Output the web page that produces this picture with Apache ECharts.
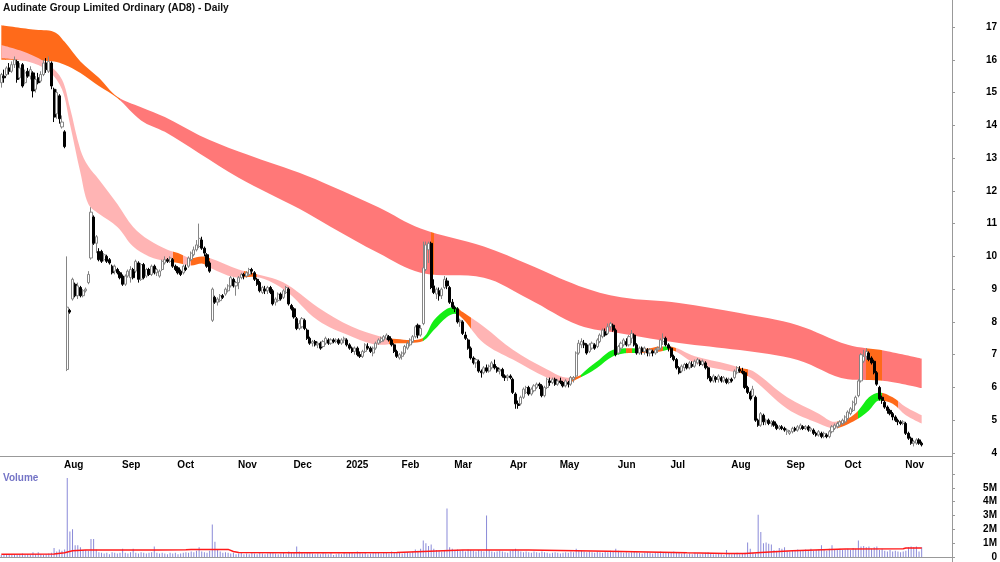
<!DOCTYPE html>
<html>
<head>
<meta charset="utf-8">
<title>Audinate Group Limited Ordinary (AD8) - Daily</title>
<script src="https://cdn.jsdelivr.net/npm/echarts@6/dist/echarts.min.js"></script>
<style>
  html, body { margin: 0; padding: 0; background: #fff; }
  #chart { width: 1000px; height: 562px; }
</style>
</head>
<body>
<div id="chart"></div>
<script>
// ASX trading calendar, Jul 2024 -> Nov 2025 (a few empty days at the right end)
const firstDay = '2024-07-01';
const dayCount = 361;
const holidays = ['2024-12-25', '2024-12-26', '2025-01-01', '2025-01-27',
    '2025-04-18', '2025-04-21', '2025-04-25', '2025-06-09'];
const monthNames = ['Jan', 'Feb', 'Mar', 'Apr', 'May', 'Jun', 'Jul', 'Aug', 'Sep', 'Oct', 'Nov', 'Dec'];

// daily candles: [open, close, low, high]
const candles = [
    // Jul 2024
    [15.3,15.55,15.15,15.6],[15.5,15.45,15.3,15.7],[15.55,15.75,15.5,15.8],[15.75,15.65,15.55,15.9],[15.65,15.85,15.6,15.95],
    [15.85,16.0,15.75,16.1],[15.95,15.4,15.3,16.0],[15.45,15.75,15.4,15.9],[15.85,15.2,15.15,15.9],[15.3,15.6,15.25,15.7],
    [15.65,15.5,15.45,15.75],[15.5,15.7,15.4,15.8],[15.6,15.05,14.85,15.65],[15.1,15.4,15.0,15.5],[15.45,15.3,15.25,15.6],
    [15.35,15.55,15.3,15.65],[15.55,15.9,15.5,16.0],[15.9,15.7,15.6,16.05],[15.65,15.95,15.6,16.1],[15.9,15.2,15.1,15.95],
    [15.1,14.25,14.1,15.15],[14.35,15.0,14.2,15.1],[14.9,14.2,14.05,14.95],
    // Aug
    [13.95,14.1,13.9,14.3],[13.8,13.35,13.3,13.85],[6.55,8.45,6.5,10.0],[8.35,8.3,8.25,8.4],[8.7,9.3,8.65,9.35],
    [9.15,8.8,8.75,9.2],[8.8,9.1,8.7,9.2],[9.05,8.8,8.75,9.1],[8.8,8.95,8.75,9.0],[8.95,9.0,8.9,9.05],
    [9.2,9.45,9.15,9.55],[9.95,11.35,9.9,11.5],[11.2,10.4,10.35,11.25],[10.4,10.6,10.1,10.65],[10.15,9.9,9.85,10.25],
    [10.15,9.85,9.8,10.2],[9.9,10.05,9.85,10.1],[10.0,9.85,9.8,10.05],[9.9,9.8,9.75,9.95],[9.7,9.5,9.45,9.75],
    [9.55,9.7,9.45,9.75],[9.6,9.5,9.45,9.65],
    // Sep
    [9.5,9.35,9.3,9.55],[9.4,9.15,9.1,9.45],[9.15,9.4,9.1,9.45],[9.4,9.55,9.35,9.6],[9.35,9.6,9.2,9.7],
    [9.6,9.35,9.3,9.65],[9.55,9.85,9.5,9.9],[9.8,9.3,9.2,9.85],[9.3,9.75,9.25,9.8],[9.75,9.35,9.3,9.8],
    [9.4,9.6,9.35,9.65],[9.6,9.45,9.4,9.65],[9.45,9.7,9.4,9.75],[9.7,9.5,9.45,9.75],[9.5,9.6,9.4,9.65],
    [9.4,9.55,9.35,9.6],[9.6,9.85,9.55,9.9],[9.8,9.9,9.75,10.0],[9.9,9.85,9.8,9.95],[9.85,9.95,9.8,10.0],
    [9.9,9.7,9.65,9.95],
    // Oct
    [9.7,9.6,9.55,9.75],[9.65,9.5,9.45,9.7],[9.55,9.45,9.4,9.6],[9.5,9.7,9.45,9.75],[9.65,9.6,9.55,9.75],
    [9.7,9.95,9.65,10.0],[9.9,10.1,9.85,10.15],[10.05,10.2,10.0,10.3],[10.2,10.35,10.15,10.5],[10.3,10.55,10.25,11.0],
    [10.5,10.25,10.2,10.6],[10.25,10.1,10.0,10.3],[10.05,9.7,9.65,10.1],[9.8,9.55,9.5,9.85],[8.05,9.0,8.0,9.05],
    [8.75,8.6,8.55,8.8],[8.6,8.7,8.5,8.75],[8.65,8.8,8.6,8.85],[8.8,8.75,8.7,8.85],[8.85,9.0,8.8,9.05],
    [8.95,9.1,8.9,9.15],[9.1,9.35,9.05,9.4],[9.3,9.1,9.05,9.35],
    // Nov
    [9.1,9.2,8.8,9.25],[9.2,9.35,9.0,9.4],[9.35,9.45,9.3,9.5],[9.45,9.4,9.3,9.5],[9.4,9.5,9.35,9.55],
    [9.45,9.6,9.4,9.65],[9.6,9.55,9.45,9.65],[9.5,9.3,9.25,9.55],[9.3,9.15,9.1,9.35],[9.2,8.95,8.9,9.25],
    [8.9,9.05,8.85,9.1],[9.0,8.95,8.85,9.1],[8.95,9.05,8.85,9.1],[9.05,8.9,8.85,9.1],[8.95,8.55,8.5,9.0],
    [8.6,8.7,8.5,8.75],[8.65,8.85,8.6,8.9],[8.85,8.7,8.65,8.9],[8.75,8.95,8.7,9.0],[8.9,9.05,8.85,9.1],
    [9.0,8.55,8.5,9.05],
    // Dec
    [8.5,8.4,8.35,8.55],[8.4,8.15,8.1,8.45],[8.1,7.8,7.75,8.15],[7.8,7.95,7.75,8.05],[7.85,8.1,7.8,8.15],
    [8.05,7.8,7.75,8.1],[7.75,7.5,7.45,7.8],[7.5,7.35,7.3,7.55],[7.35,7.4,7.25,7.45],[7.4,7.3,7.25,7.45],
    [7.3,7.35,7.2,7.4],[7.35,7.2,7.15,7.4],[7.25,7.4,7.2,7.45],[7.35,7.5,7.3,7.55],[7.45,7.35,7.3,7.5],
    [7.35,7.45,7.3,7.5],[7.45,7.4,7.35,7.5],[7.4,7.45,7.35,7.5],[7.45,7.35,7.3,7.5],[7.35,7.45,7.3,7.5],
    // Jan 2025
    [7.45,7.5,7.35,7.55],[7.45,7.3,7.25,7.5],[7.3,7.2,7.15,7.35],[7.2,7.1,7.05,7.25],[7.1,7.2,7.0,7.25],
    [7.2,7.0,6.95,7.25],[7.0,6.95,6.9,7.1],[6.95,7.1,6.9,7.15],[7.1,7.3,7.05,7.35],[7.25,7.2,7.15,7.35],
    [7.2,7.1,7.05,7.25],[7.05,7.2,6.95,7.25],[7.2,7.35,7.15,7.4],[7.35,7.45,7.3,7.5],[7.4,7.5,7.35,7.55],
    [7.45,7.55,7.4,7.6],[7.5,7.6,7.45,7.65],[7.55,7.45,7.4,7.6],[7.45,7.3,7.25,7.5],[7.3,7.1,7.05,7.35],
    [7.1,6.95,6.9,7.15],
    // Feb
    [6.9,7.0,6.85,7.05],[6.95,7.05,6.85,7.1],[7.05,7.25,7.0,7.3],[7.2,7.35,7.15,7.4],[7.3,7.45,7.25,7.5],
    [7.4,7.55,7.35,7.6],[7.55,7.85,7.5,7.9],[7.9,7.6,7.5,7.95],[7.6,7.8,7.55,7.9],[7.95,9.65,7.9,10.45],
    [9.6,10.35,9.55,10.45],[10.2,10.4,9.8,10.45],[10.4,9.05,9.0,10.45],[9.1,8.9,8.85,9.3],[8.85,9.0,8.7,9.05],
    [8.95,8.8,8.65,9.05],[8.8,9.0,8.7,9.05],[9.05,9.3,9.0,9.4],[9.25,9.1,9.0,9.35],[9.05,8.6,8.55,9.1],
    // Mar
    [8.6,8.45,8.4,8.7],[8.45,8.4,8.3,8.5],[8.4,8.0,7.95,8.45],[8.0,8.05,7.85,8.1],[8.0,7.65,7.6,8.05],
    [7.6,7.5,7.45,7.7],[7.45,7.2,7.15,7.5],[7.2,6.9,6.85,7.25],[6.9,6.75,6.7,6.95],[6.75,6.85,6.6,6.9],
    [6.8,6.5,6.45,6.85],[6.5,6.45,6.3,6.55],[6.45,6.6,6.4,6.65],[6.6,6.5,6.45,6.7],[6.5,6.65,6.45,6.7],
    [6.6,6.75,6.55,6.8],[6.7,6.6,6.55,6.85],[6.6,6.5,6.45,6.65],[6.5,6.55,6.4,6.6],[6.55,6.35,6.3,6.6],
    [6.35,6.3,6.2,6.4],
    // Apr
    [6.3,6.35,6.2,6.4],[6.35,6.3,6.25,6.4],[6.25,5.85,5.8,6.3],[5.8,5.5,5.35,5.85],[5.5,5.45,5.35,5.6],
    [5.5,5.7,5.45,5.75],[5.7,5.95,5.65,6.0],[5.85,6.0,5.8,6.05],[6.0,5.8,5.75,6.05],[5.8,5.95,5.75,6.0],
    [5.9,6.05,5.85,6.1],[6.0,6.1,5.95,6.15],[6.1,6.05,5.95,6.15],[6.05,5.75,5.7,6.1],[5.75,6.0,5.7,6.05],
    [6.0,6.25,5.95,6.3],[6.2,6.15,6.05,6.3],[6.15,6.25,6.1,6.3],[6.25,6.1,6.05,6.3],
    // May
    [6.1,6.2,6.05,6.25],[6.2,6.15,6.1,6.3],[6.15,6.05,6.0,6.2],[6.05,6.2,6.0,6.25],[6.15,6.1,6.0,6.2],
    [6.1,6.3,6.05,6.35],[6.25,6.3,6.15,6.35],[6.35,7.05,6.3,7.1],[7.05,7.35,7.0,7.45],[7.3,7.4,7.2,7.5],
    [7.35,7.3,7.2,7.45],[7.3,7.05,7.0,7.35],[7.1,7.3,7.05,7.35],[7.2,7.35,7.15,7.4],[7.3,7.2,7.15,7.35],
    [7.25,7.45,7.2,7.5],[7.4,7.6,7.35,7.65],[7.55,7.75,7.5,7.8],[7.7,7.6,7.55,7.8],[7.65,7.85,7.6,7.95],
    [7.85,7.95,7.75,8.0],[7.9,7.75,7.7,7.95],
    // Jun
    [7.75,7.0,6.95,7.8],[7.05,7.25,7.0,7.3],[7.2,7.35,7.1,7.4],[7.3,7.45,7.25,7.5],[7.4,7.3,7.25,7.5],
    [7.3,7.55,7.25,7.6],[7.5,7.65,7.35,7.75],[7.6,7.3,7.25,7.65],[7.3,7.05,7.0,7.35],[7.05,7.2,7.0,7.25],
    [7.2,7.1,7.0,7.25],[7.1,7.2,7.0,7.25],[7.15,7.05,6.95,7.2],[7.05,7.15,6.95,7.2],[7.1,7.05,6.95,7.15],
    [7.05,7.15,7.0,7.2],[7.15,7.2,7.05,7.25],[7.2,7.45,7.15,7.5],[7.4,7.5,7.3,7.65],[7.5,7.3,7.25,7.55],
    // Jul
    [7.3,7.2,7.1,7.35],[7.2,6.95,6.9,7.25],[6.95,6.85,6.8,7.0],[6.85,6.6,6.55,6.9],[6.6,6.45,6.4,6.65],
    [6.5,6.65,6.45,6.7],[6.6,6.7,6.5,6.75],[6.7,6.6,6.55,6.75],[6.6,6.75,6.55,6.8],[6.7,6.65,6.6,6.8],
    [6.65,6.8,6.6,6.85],[6.75,6.85,6.7,6.9],[6.8,6.7,6.65,6.85],[6.7,6.8,6.65,6.85],[6.75,6.6,6.55,6.8],
    [6.6,6.3,6.25,6.65],[6.3,6.2,6.15,6.35],[6.2,6.35,6.15,6.4],[6.3,6.25,6.15,6.35],[6.25,6.35,6.15,6.4],
    [6.3,6.2,6.15,6.35],[6.2,6.3,6.15,6.35],[6.25,6.15,6.1,6.3],
    // Aug
    [6.15,6.25,6.1,6.3],[6.25,6.2,6.15,6.3],[6.3,6.5,6.25,6.55],[6.45,6.6,6.4,6.65],[6.55,6.5,6.45,6.65],
    [6.5,6.45,6.4,6.6],[6.45,6.0,5.95,6.5],[6.0,5.85,5.8,6.05],[5.85,5.65,5.6,5.9],[5.75,5.95,5.7,6.05],
    [5.7,5.0,4.95,5.75],[5.0,4.85,4.8,5.05],[4.85,5.2,4.8,5.25],[5.15,4.95,4.85,5.2],[4.95,5.0,4.85,5.05],
    [5.0,4.9,4.85,5.05],[4.9,4.95,4.8,5.0],[4.95,4.85,4.8,5.0],[4.85,4.75,4.7,4.9],[4.75,4.8,4.7,4.85],
    [4.8,4.75,4.7,4.85],
    // Sep
    [4.75,4.7,4.65,4.8],[4.65,4.7,4.55,4.75],[4.6,4.65,4.55,4.7],[4.65,4.75,4.6,4.8],[4.75,4.7,4.65,4.8],
    [4.7,4.8,4.65,4.85],[4.75,4.85,4.7,4.9],[4.8,4.75,4.7,4.85],[4.75,4.8,4.7,4.85],[4.8,4.7,4.65,4.85],
    [4.7,4.75,4.65,4.8],[4.7,4.6,4.55,4.75],[4.6,4.55,4.5,4.65],[4.55,4.65,4.5,4.7],[4.6,4.5,4.45,4.65],
    [4.5,4.6,4.45,4.65],[4.55,4.5,4.45,4.6],[4.5,4.65,4.45,4.7],[4.65,4.8,4.6,4.85],[4.75,4.85,4.7,4.9],
    [4.8,4.9,4.75,4.95],[4.85,4.95,4.8,5.0],
    // Oct
    [4.9,5.0,4.85,5.05],[4.95,5.1,4.9,5.15],[5.05,5.25,5.0,5.3],[5.2,5.35,5.15,5.4],[5.3,5.55,5.25,5.6],
    [5.5,5.7,5.45,5.75],[5.75,6.2,5.7,6.25],[6.2,7.0,6.15,7.05],[6.8,6.95,6.75,7.15],[6.95,7.1,6.85,7.2],
    [7.05,6.85,6.8,7.1],[6.9,6.75,6.7,6.95],[6.8,6.45,6.4,6.85],[6.45,6.1,6.05,6.5],[6.0,5.65,5.6,6.05],
    [5.7,5.6,5.5,5.75],[5.55,5.4,5.35,5.6],[5.4,5.3,5.2,5.45],[5.3,5.2,5.15,5.35],[5.2,5.1,5.0,5.25],
    [5.1,5.0,4.95,5.15],[5.0,4.95,4.85,5.05],[4.95,4.9,4.85,5.0],
    // Nov
    [4.9,4.95,4.85,5.0],[4.9,4.6,4.55,4.95],[4.6,4.45,4.4,4.65],[4.45,4.3,4.25,4.5],[4.3,4.35,4.2,4.4],
    [4.3,4.4,4.25,4.45],[4.4,4.3,4.25,4.45],[4.3,4.25,4.2,4.35]
];

// daily volume, millions of shares
const volumes = [
    0.15,0.2,0.15,0.2,0.15,0.2,0.15,0.2,0.25,0.15,
    0.2,0.15,0.35,0.2,0.35,0.2,0.15,0.2,0.25,0.3,
    0.65,0.4,0.55,0.45,0.55,5.7,1.85,2.0,0.85,0.85,
    0.7,0.5,0.5,0.45,1.3,1.3,0.55,0.35,0.3,0.25,
    0.3,0.2,0.35,0.3,0.25,0.3,0.6,0.3,0.25,0.35,
    0.6,0.3,0.25,0.35,0.3,0.25,0.3,0.35,0.75,0.3,
    0.25,0.3,0.25,0.2,0.3,0.25,0.3,0.2,0.25,0.3,
    0.35,0.3,0.4,0.35,0.45,0.7,0.4,0.35,0.3,0.45,
    2.35,1.1,0.5,0.4,0.3,0.35,0.3,0.25,0.3,0.2,
    0.25,0.3,0.2,0.25,0.2,0.3,0.25,0.2,0.3,0.25,
    0.2,0.25,0.3,0.35,0.25,0.2,0.25,0.3,0.2,0.4,
    0.3,0.35,0.75,0.4,0.3,0.25,0.35,0.3,0.25,0.2,
    0.25,0.2,0.3,0.25,0.2,0.3,0.15,0.2,0.25,0.2,
    0.3,0.25,0.35,0.3,0.25,0.4,0.3,0.25,0.3,0.2,
    0.25,0.3,0.35,0.3,0.25,0.3,0.35,0.25,0.4,0.3,
    0.35,0.3,0.25,0.3,0.35,0.3,0.4,0.55,0.45,0.6,
    1.2,1.0,0.8,0.9,0.6,0.5,0.45,0.4,0.5,3.5,
    0.7,0.6,0.5,0.55,0.45,0.5,0.4,0.55,0.5,0.45,
    0.4,0.5,0.45,0.4,3.0,0.5,0.4,0.35,0.4,0.45,
    0.4,0.35,0.3,0.45,0.5,0.6,0.45,0.4,0.35,0.4,
    0.35,0.3,0.4,0.35,0.3,0.4,0.35,0.3,0.25,0.3,
    0.35,0.3,0.25,0.3,0.35,0.3,0.4,0.35,0.6,0.5,
    0.45,0.4,0.35,0.4,0.35,0.3,0.4,0.35,0.3,0.4,
    0.35,0.45,0.4,0.6,0.45,0.35,0.3,0.35,0.3,0.35,
    0.4,0.35,0.3,0.25,0.3,0.35,0.3,0.25,0.3,0.35,
    0.4,0.35,0.3,0.35,0.3,0.4,0.35,0.3,0.25,0.3,
    0.2,0.25,0.2,0.3,0.25,0.2,0.25,0.3,0.35,0.25,
    0.2,0.2,0.25,0.2,0.15,0.5,0.25,0.2,0.25,0.3,
    0.2,0.25,0.3,1.05,0.6,0.3,0.25,3.05,1.8,1.0,
    1.05,0.95,0.9,0.5,0.45,0.65,0.6,0.7,0.45,0.4,
    0.5,0.45,0.55,0.5,0.45,0.55,0.5,0.6,0.45,0.5,
    0.55,0.85,0.5,0.45,0.6,0.85,0.5,0.55,0.6,0.5,
    0.55,0.6,0.5,0.65,0.6,1.2,0.75,0.8,0.7,0.75,
    0.6,0.7,0.75,0.5,0.6,0.45,0.4,0.5,0.4,0.45,
    0.4,0.35,0.4,0.45,0.7,0.75,0.7,0.75,0.4,0.7
];

// volume moving average, read at [day, millions]
const volumeAvg = [[0,0.2],[20,0.22],[24,0.3],[27,0.45],[32,0.5],[60,0.5],[70,0.52],[72,0.55],[86,0.55],
    [88,0.4],[90,0.32],[110,0.3],[130,0.3],[150,0.32],[160,0.4],[175,0.5],[200,0.5],[230,0.42],
    [260,0.3],[275,0.25],[282,0.25],[288,0.33],[300,0.45],[320,0.58],[342,0.6],[343,0.65],[349,0.65]];

// long-term moving average ribbon (edges), read at day indexes
const longIdx   = [0, 12, 20, 24, 30, 37, 44, 53, 62, 75, 90, 113, 125, 143, 159, 183, 200, 219, 235, 257, 280, 302, 321, 335, 349];
const longUpper = [17.05, 16.92, 16.85, 16.55, 15.95, 15.45, 14.87, 14.55, 14.25, 13.7, 13.2, 12.55, 12.15, 11.5, 10.85, 10.3, 9.75, 9.1, 8.75, 8.58, 8.27, 7.9, 7.3, 7.12, 6.88];
const longLower = [16.0, 15.97, 15.95, 15.85, 15.6, 15.2, 14.83, 14.15, 13.8, 13.15, 12.4, 11.45, 10.9, 10.1, 9.5, 9.35, 8.7, 7.9, 7.65, 7.36, 7.14, 6.84, 6.25, 6.2, 5.98];

// short-term moving average ribbon (edges)
const shortIdx   = [0, 10, 18, 23, 26, 30, 33, 37, 44, 50, 56, 63, 67, 72, 76, 79, 90, 95, 107, 120, 133, 144, 150, 155, 160, 164, 169, 172, 175, 183,
    194, 207, 215, 219, 222, 226, 232, 238, 244, 250, 253, 263, 276, 280, 285, 298, 310, 316, 321, 325, 329, 333, 338, 343, 349];
const shortUpper = [16.45, 16.2, 15.85, 15.4, 14.55, 13.25, 12.75, 12.35, 11.6, 10.9, 10.5, 10.2, 10.1, 9.95, 10.0, 9.95, 9.6, 9.5, 9.2, 8.45, 7.85, 7.55, 7.48, 7.45, 7.52, 8.05, 8.4, 8.45, 8.3, 7.85,
    7.15, 6.55, 6.3, 6.35, 6.55, 6.8, 7.15, 7.2, 7.18, 7.25, 7.25, 6.95, 6.7, 6.6, 6.5, 5.7, 5.2, 4.95, 5.05, 5.3, 5.7, 5.85, 5.7, 5.4, 5.15];
const shortLower = [16.05, 15.95, 15.65, 15.1, 14.05, 12.55, 11.6, 11.3, 10.9, 10.3, 10.0, 9.85, 9.8, 9.72, 9.78, 9.65, 9.35, 9.38, 9.0, 8.05, 7.55, 7.3, 7.35, 7.36, 7.42, 7.75, 8.15, 8.25, 8.1, 7.35,
    6.85, 6.3, 6.15, 6.28, 6.4, 6.6, 6.95, 7.05, 7.06, 7.1, 7.15, 6.75, 6.5, 6.45, 6.25, 5.35, 4.9, 4.75, 4.88, 5.05, 5.3, 5.6, 5.5, 5.15, 4.9];

// ribbon state along the days: [from day, state]
const longState = [[0, 'mixed'], [44.5, 'down'], [162.6, 'mixed'], [164.4, 'down'], [327.8, 'mixed'], [333.6, 'down']];
const shortState = [[0, 'down'], [64.5, 'mixed'], [68.5, 'down'], [71.5, 'mixed'], [79, 'down'], [91.5, 'mixed'], [97, 'down'],
    [146.5, 'mixed'], [160, 'up'], [172.5, 'mixed'], [177.5, 'down'], [215.5, 'mixed'], [220, 'up'], [237.3, 'mixed'],
    [238.5, 'up'], [241, 'mixed'], [251.3, 'up'], [253.3, 'mixed'], [256, 'down'], [278.5, 'mixed'], [283, 'down'],
    [317, 'mixed'], [325.3, 'up'], [333.6, 'mixed'], [339.5, 'down']];

const longColours = { mixed: '#ff6a1a', down: '#ff7878' };
const shortColours = { mixed: '#ff6a1a', down: '#ffb4b4', up: '#14ee14' };

function tradingDays() {
    let out = [];
    let d = new Date(firstDay + 'T00:00:00Z');
    while (out.length < dayCount) {
        let wd = d.getUTCDay();
        let s = d.toISOString().slice(0, 10);
        if (wd !== 0 && wd !== 6 && holidays.indexOf(s) < 0) {
            out.push(s);
        }
        d.setUTCDate(d.getUTCDate() + 1);
    }
    return out;
}

const dates = tradingDays();
const monthStart = dates.map((s, i) => i > 0 && s.slice(5, 7) !== dates[i - 1].slice(5, 7));

function monthLabel(s) {
    let m = +s.slice(5, 7);
    return m === 1 ? s.slice(0, 4) : monthNames[m - 1];
}

function pieces(states, colours) {
    return states.map((st, k) => ({
        gte: st[0],
        lt: k + 1 < states.length ? states[k + 1][0] : dayCount + 1,
        color: colours[st[1]]
    }));
}

function ribbon(name, idx, upper, lower) {
    return [{
        name: name + ' base',
        type: 'line',
        stack: name,
        data: idx.map((x, k) => [x, lower[k]]),
        symbol: 'none',
        smooth: 0.35,
        lineStyle: { opacity: 0 },
        silent: true,
        z: name === 'long' ? 1 : 2
    }, {
        name: name,
        type: 'line',
        stack: name,
        data: idx.map((x, k) => [x, +(upper[k] - lower[k]).toFixed(3)]),
        symbol: 'none',
        smooth: 0.35,
        lineStyle: { width: 0, opacity: 0 },
        areaStyle: { opacity: 1 },
        silent: true,
        z: name === 'long' ? 1 : 2
    }];
}

function isWhole(v) {
    return Math.abs(v - Math.round(v)) < 1e-6;
}

const font = '"Liberation Sans", Arial, sans-serif';
const labelStyle = { color: '#000', fontWeight: 'bold', fontSize: 10, fontFamily: font };

const chart = echarts.init(document.getElementById('chart'));

chart.setOption({
    animation: false,
    backgroundColor: '#fff',
    grid: [
        { left: 0, right: 48, top: 0, height: 456 },
        { left: 0, right: 48, top: 470, bottom: 4 }
    ],
    xAxis: [{
        type: 'category',
        gridIndex: 0,
        data: dates,
        axisLine: { lineStyle: { color: '#999' } },
        axisTick: { inside: true, length: 3, lineStyle: { color: '#999' }, interval: (i) => monthStart[i] },
        axisLabel: Object.assign({
            interval: (i) => monthStart[i],
            formatter: monthLabel,
            align: 'left',
            margin: 4,
            padding: [0, 0, 0, 2]
        }, labelStyle),
        splitLine: { show: false }
    }, {
        type: 'category',
        gridIndex: 1,
        data: dates,
        position: 'top',
        axisLine: { lineStyle: { color: '#999' } },
        axisTick: { show: false },
        axisLabel: { show: false },
        splitLine: { show: false }
    }],
    yAxis: [{
        type: 'value',
        gridIndex: 0,
        position: 'right',
        min: 3.9085,
        max: 17.824,
        minInterval: 1,
        maxInterval: 1,
        axisLine: { show: false },
        axisTick: { show: true, length: 3, lineStyle: { color: '#999' } },
        axisLabel: Object.assign({
            align: 'right',
            margin: 45,
            showMinLabel: false,
            showMaxLabel: false,
            formatter: (v) => (isWhole(v) ? String(Math.round(v)) : '')
        }, labelStyle),
        splitLine: { show: false }
    }, {
        type: 'value',
        gridIndex: 1,
        position: 'right',
        min: 0,
        max: 6.286,
        minInterval: 1,
        maxInterval: 1,
        axisLine: { show: false },
        axisTick: { show: true, length: 3, lineStyle: { color: '#999' } },
        axisLabel: Object.assign({
            align: 'right',
            margin: 45,
            showMaxLabel: false,
            formatter: (v) => {
                if (!isWhole(v) || v > 5.5) return '';
                return v === 0 ? '0' : Math.round(v) + 'M';
            }
        }, labelStyle),
        splitLine: { show: false }
    }],
    visualMap: [{
        type: 'piecewise',
        show: false,
        seriesIndex: 1,
        dimension: 0,
        pieces: pieces(longState, longColours)
    }, {
        type: 'piecewise',
        show: false,
        seriesIndex: 3,
        dimension: 0,
        pieces: pieces(shortState, shortColours)
    }],
    graphic: [{
        type: 'text',
        left: 3,
        top: 2,
        scaleX: 0.89,
        style: { text: 'Audinate Group Limited Ordinary (AD8) - Daily', font: 'bold 11.5px ' + font, fill: '#111' }
    }, {
        type: 'text',
        left: 3,
        top: 473,
        style: { text: 'Volume', font: 'bold 10px ' + font, fill: '#7474c6' }
    }, {
        type: 'line',
        shape: { x1: 952.5, y1: 0, x2: 952.5, y2: 562 },
        style: { stroke: '#999', lineWidth: 1 }
    }],
    series: [].concat(
        ribbon('long', longIdx, longUpper, longLower),
        ribbon('short', shortIdx, shortUpper, shortLower),
        [{
            name: 'AD8',
            type: 'candlestick',
            xAxisIndex: 0,
            yAxisIndex: 0,
            data: candles,
            barWidth: 2.6,
            z: 5,
            itemStyle: {
                color: '#ffffff',
                color0: '#000000',
                borderColor: '#858585',
                borderColor0: '#000000',
                borderWidth: 1
            }
        }, {
            name: 'Volume',
            type: 'bar',
            xAxisIndex: 1,
            yAxisIndex: 1,
            data: volumes,
            barWidth: 1,
            itemStyle: { color: '#8a8ad8' },
            z: 2
        }, {
            name: 'Volume average',
            type: 'line',
            xAxisIndex: 1,
            yAxisIndex: 1,
            data: volumeAvg,
            symbol: 'none',
            lineStyle: { color: '#ff1a1a', width: 1.5 },
            z: 3
        }]
    )
});
</script>
</body>
</html>
